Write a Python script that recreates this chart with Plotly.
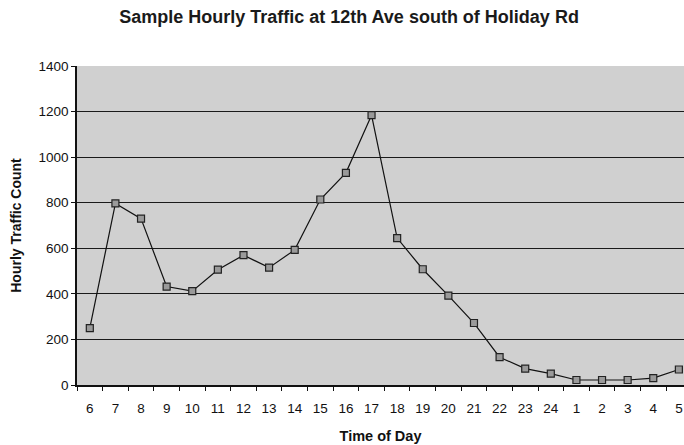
import plotly.graph_objects as go

hours = ["6", "7", "8", "9", "10", "11", "12", "13", "14", "15", "16", "17",
         "18", "19", "20", "21", "22", "23", "24", "1", "2", "3", "4", "5"]
counts = [250, 797, 730, 432, 412, 506, 570, 515, 593, 814, 931, 1184,
          645, 508, 392, 272, 122, 72, 50, 22, 22, 22, 30, 68]
y_ticks = [0, 200, 400, 600, 800, 1000, 1200, 1400]

fig = go.Figure()
fig.add_trace(go.Scatter(
    x=hours, y=counts, mode="lines+markers",
    line=dict(color="#111111", width=1.2),
    marker=dict(symbol="square", size=7, color="#9a9a9a",
                line=dict(color="#222222", width=1.2)),
    showlegend=False, cliponaxis=False,
))

font_family = "Liberation Sans, Arial, sans-serif"
fig.update_layout(
    width=684, height=445,
    margin=dict(l=77, r=0, t=66, b=60, autoexpand=False),
    paper_bgcolor="white",
    plot_bgcolor="#d0d0d0",
    font=dict(family=font_family, size=13.5, color="#111111"),
    title=dict(text="<b>Sample Hourly Traffic at 12th Ave south of Holiday Rd</b>",
               x=349 / 684, xref="container", xanchor="center",
               yref="container", y=1 - 17 / 445, yanchor="middle",
               font=dict(size=18, color="#1a1a1a")),
    xaxis=dict(
        type="category", range=[-0.5, 23.2], automargin=False,
        tickson="boundaries", ticks="outside", ticklen=4, tickcolor="#111111",
        ticklabelstandoff=10,
        showline=True, linecolor="#111111", linewidth=1.5,
        showgrid=False, tickfont=dict(size=13.5),
        title=dict(text="<b>Time of Day</b>", font=dict(size=14.5), standoff=16),
    ),
    yaxis=dict(
        range=[0, 1400], tickvals=y_ticks, automargin=False,
        ticks="outside", ticklen=4, tickcolor="#111111",
        showline=True, linecolor="#111111", linewidth=1.5,
        showgrid=True, gridcolor="#1a1a1a", gridwidth=1.2,
        zeroline=False, tickfont=dict(size=13.5),
        title=dict(text="<b>Hourly Traffic Count</b>", font=dict(size=14), standoff=14),
    ),
)

fig.write_html(
    "out.html",
    config={"displayModeBar": False},
    post_script="document.body.style.margin='0';document.body.style.overflow='hidden';",
)
